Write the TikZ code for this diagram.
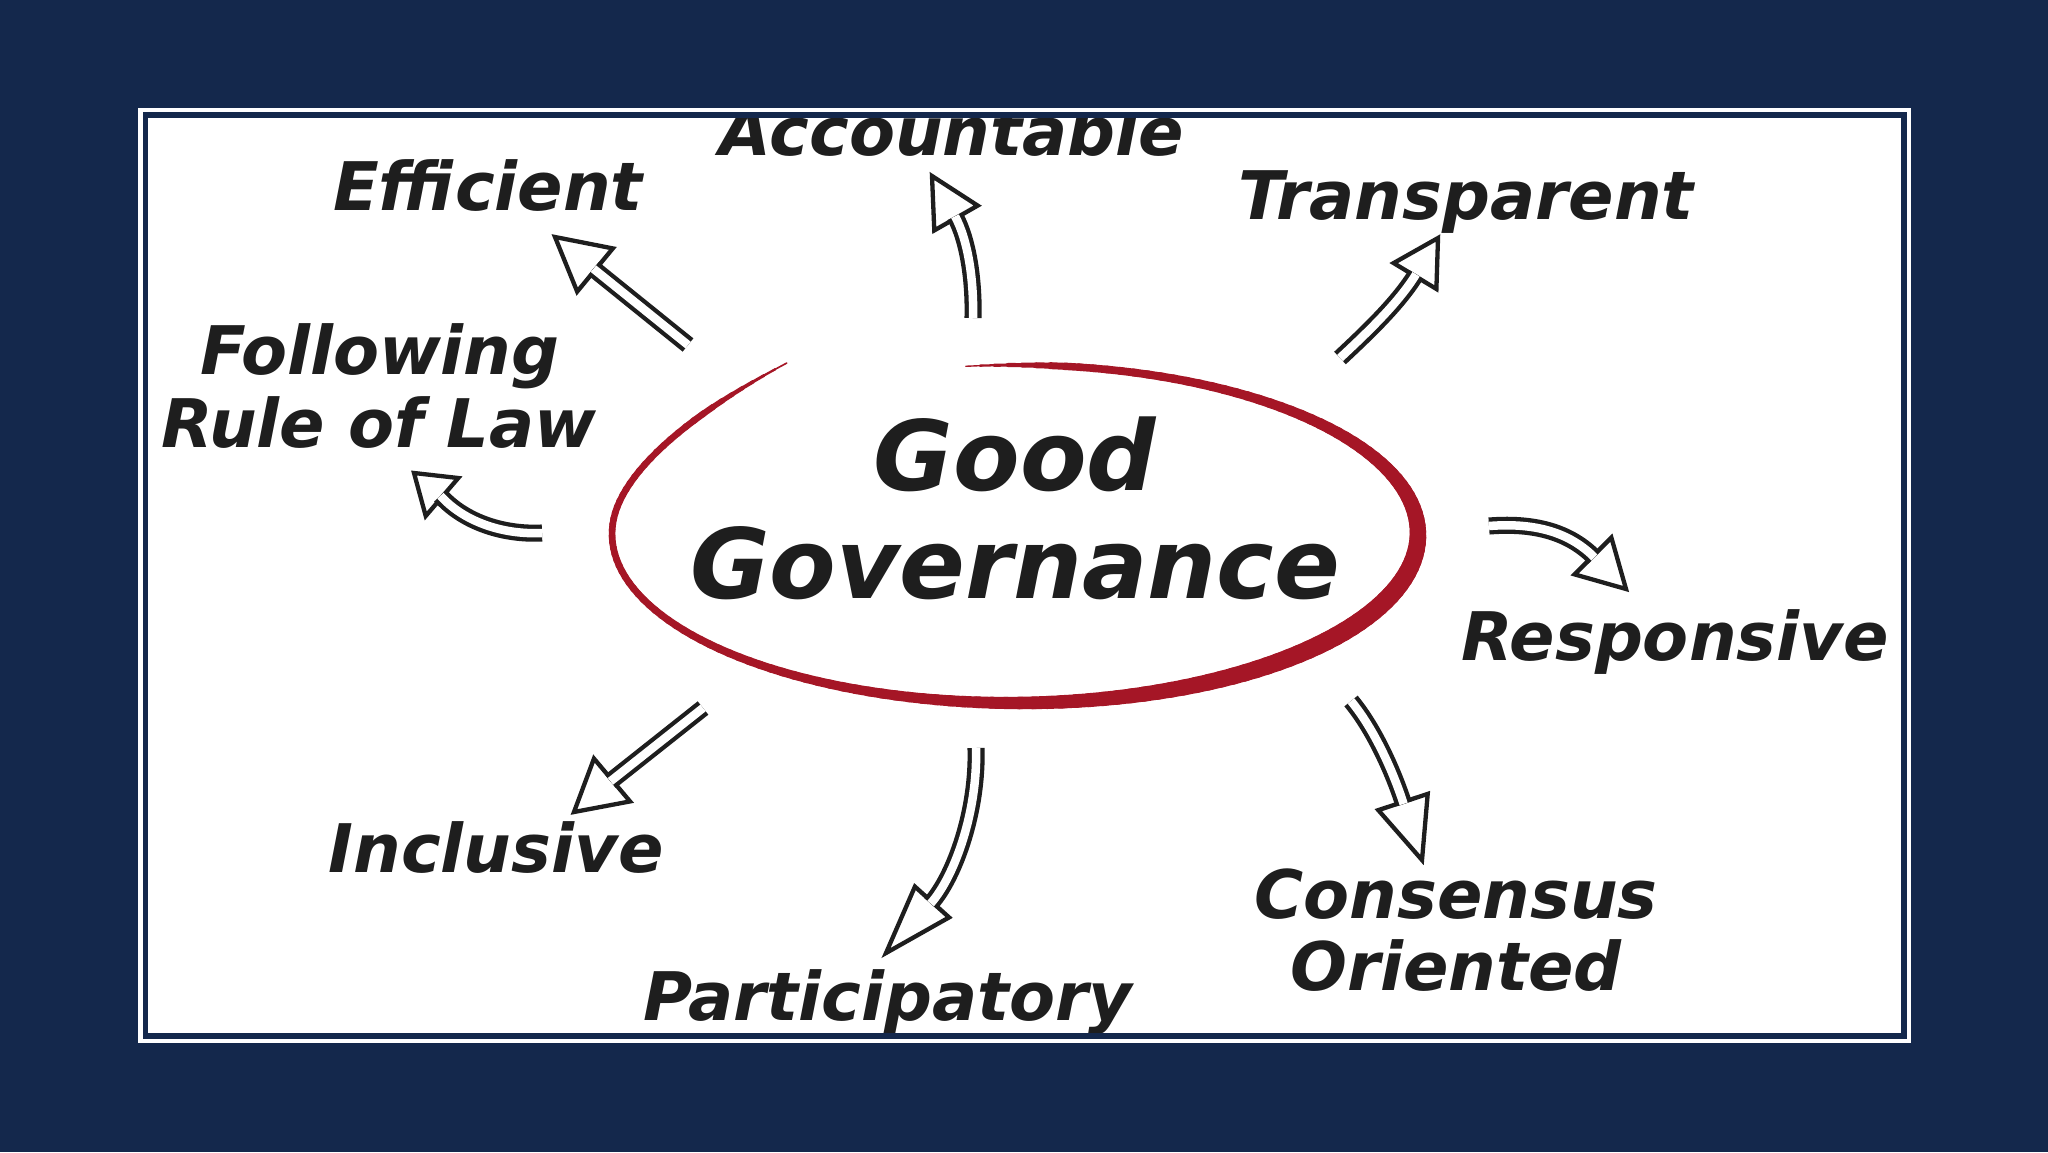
\documentclass[tikz,border=0pt]{standalone}
\usepackage{fontspec}
\usetikzlibrary{calc}
\newfontfamily\hand{DejaVu Sans Bold Oblique}
\definecolor{navy}{RGB}{20,40,76}
\definecolor{ink}{RGB}{30,30,30}
\definecolor{ringred}{RGB}{165,22,38}
\newcommand\hollowhead[3]{%
  \draw[head] ($(#1)!#3!90:(#2)$) -- (#2) -- ($(#1)!#3!-90:(#2)$) -- cycle;}
\begin{document}
\begin{tikzpicture}[x=1pt,y=-1pt,
  lbl/.style={text=ink, font=\hand\fontsize{67}{80}\selectfont, inner sep=0pt, anchor=base},
  big/.style={text=ink, font=\hand\fontsize{97}{110}\selectfont, inner sep=0pt, anchor=base},
  shaft/.style={draw=ink, double=white, double distance=8.5pt, line width=4.3pt},
  head/.style={draw=ink, fill=white, line width=4.3pt, line join=miter},
  ring/.style={draw=ringred, line cap=round}]
\useasboundingbox (0,0) rectangle (2048,1152);
\fill[navy] (0,0) rectangle (2048,1152);
\fill[white] (138,108) rectangle (1911,1043);

\begin{scope}
\clip (148,118) rectangle (1901,1033);

% ring
\foreach \ang in {-97,-95,...,233}{
  \pgfmathsetmacro{\angb}{\ang+2.5}
  \pgfmathsetmacro{\w}{(6.5+12*exp(0-((\ang+1-30)/70)^2))*min(1,min((\ang+97)/16+0.2,(235-\ang)/20+0.15))}
  \pgfmathsetmacro{\dya}{(\ang>190)?(0-31*((\ang-190)/45)^2):0}
  \pgfmathsetmacro{\dyb}{(\angb>190)?(0-31*((\angb-190)/45)^2):0}
  \draw[ring, line width=\w pt] ({1015+403*cos(\ang)},{534+169*sin(\ang)+\dya}) -- ({1015+403*cos(\angb)},{534+169*sin(\angb)+\dyb});
}

% central text
\node[big] (good) at (1015,490) {Good};
\node[big] (gov) at (1015,598) {Governance};

% labels
\node[lbl] (acc) at (952,155) {Accountable};
\node[lbl] (eff) at (488,210) {Efficient};
\node[lbl] (tra) at (1466,219) {Transparent};
\node[lbl] (fol1) at (380,374) {Following};
\node[lbl] (fol2) at (379,447) {Rule of Law};
\node[lbl] (res) at (1675,660) {Responsive};
\node[lbl] (con1) at (1456,918) {Consensus};
\node[lbl] (con2) at (1456,990) {Oriented};
\node[lbl] (par) at (888,1020) {Participatory};
\node[lbl] (inc) at (496,872) {Inclusive};

% arrow coordinates: tail t, base b, tip p
\coordinate (t1) at (688,345); \coordinate (b1) at (595,270); \coordinate (p1) at (555,237);
\coordinate (t2) at (542,533); \coordinate (b2) at (442,497); \coordinate (p2) at (414,473);
\coordinate (t3) at (973,318); \coordinate (b3) at (956,218); \coordinate (p3) at (932,176);
\coordinate (t4) at (1340,358); \coordinate (b4) at (1415,276); \coordinate (p4) at (1438,238);
\coordinate (t5) at (1489,526); \coordinate (b5) at (1593,556); \coordinate (p5) at (1626,589);
\coordinate (t6) at (1351,701); \coordinate (b6) at (1403,802); \coordinate (p6) at (1422,860);
\coordinate (t7) at (976,748); \coordinate (b7) at (932,902); \coordinate (p7) at (886,953);
\coordinate (t8) at (703,708); \coordinate (b8) at (612,780); \coordinate (p8) at (574,812);

% Efficient
\hollowhead{b1}{p1}{28pt}
\draw[shaft] (t1) -- ($(b1)!2pt!(p1)$);
% Following Rule of Law
\hollowhead{b2}{p2}{25pt}
\draw[shaft] (t2) .. controls (500,535) and (462,520) .. ($(b2)!2pt!(p2)$);
% Accountable
\hollowhead{b3}{p3}{25pt}
\draw[shaft] (t3) .. controls (974,280) and (968,240) .. ($(b3)!2pt!(p3)$);
% Transparent
\hollowhead{b4}{p4}{25pt}
\draw[shaft] (t4) .. controls (1370,330) and (1399,302) .. ($(b4)!2pt!(p4)$);
% Responsive
\hollowhead{b5}{p5}{26pt}
\draw[shaft] (t5) .. controls (1540,522) and (1572,535) .. ($(b5)!2pt!(p5)$);
% Consensus Oriented
\hollowhead{b6}{p6}{26pt}
\draw[shaft] (t6) .. controls (1375,730) and (1394,774) .. ($(b6)!2pt!(p6)$);
% Participatory
\hollowhead{b7}{p7}{23pt}
\draw[shaft] (t7) .. controls (978,810) and (955,876) .. ($(b7)!2pt!(p7)$);
% Inclusive
\hollowhead{b8}{p8}{28pt}
\draw[shaft] (t8) -- ($(b8)!2pt!(p8)$);
\end{scope}

\draw[navy, line width=5.5pt] (145.5,115) rectangle (1904,1036);
\end{tikzpicture}
\end{document}
